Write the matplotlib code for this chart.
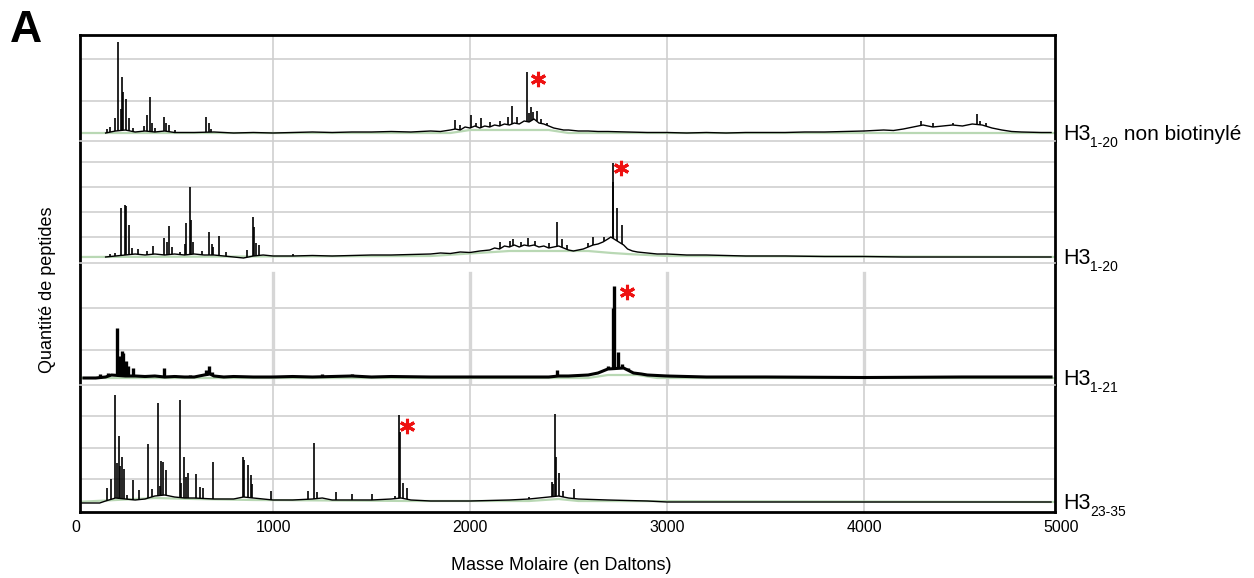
import matplotlib

matplotlib.use("Agg")

import matplotlib.pyplot as plt
import numpy as np
from matplotlib import transforms

plt.rcParams["font.family"] = ["Liberation Sans", "DejaVu Sans"]

# ---- data (mass in Da, intensity in arbitrary units) ----
labels_main = ["H3", "H3", "H3", "H3"]
labels_sub = ["1-20", "1-20", "1-21", "23-35"]
labels_tail = [" non biotinylé", "", "", ""]

tick_values = [0, 1000, 2000, 3000, 4000, 5000]

# panel 1 : H3 1-20 non biotinylé
p1_base_mz = [150, 200, 250, 300, 350, 400, 450, 500, 600, 700, 800, 900, 1000, 1100, 1200, 1300,
              1400, 1500, 1600, 1700, 1750, 1800, 1850, 1900, 1925, 1950, 1975, 2000, 2025, 2050,
              2075, 2100, 2125, 2150, 2175, 2200, 2225, 2250, 2275, 2300, 2325, 2350, 2375, 2400,
              2425, 2450, 2475, 2500, 2550, 2600, 2650, 2700, 2800, 2900, 3000, 3100, 3200, 3300,
              3400, 3500, 3600, 3700, 3800, 3900, 4000, 4050, 4100, 4150, 4200, 4250, 4300, 4350,
              4400, 4450, 4500, 4550, 4600, 4650, 4700, 4750, 4800, 4900, 4950]
p1_base_h = [0, 2, 3, 1, 2, 1, 2, 0.5, 0.5, 1, 0, 0.5, 0, 0.5, 1, 0.5, 1, 1, 1.5, 1, 1.5, 2, 1.5,
             3, 4, 3, 6, 5, 7, 5, 7, 6, 8, 7, 9, 8, 10, 9, 12, 11, 14, 10, 9, 7, 5, 4, 3, 3, 2, 2,
             1.5, 1.5, 1, 0.5, 0.5, 0, 0.5, 0, 0.5, 0.5, 0.5, 1, 1, 1.5, 2, 2.5, 3, 2.5, 4, 6, 8,
             6, 7, 8, 7, 9, 8, 5, 3, 1.5, 1, 0.5, 0.5]
p1_peak_mz = [159, 174, 196, 215, 230, 235, 240, 255, 270, 290, 347, 362, 377, 386, 400, 448, 457,
              471, 500, 661, 677, 687, 1926, 1949, 2003, 2030, 2056, 2100, 2150, 2191, 2212, 2240,
              2289, 2300, 2310, 2320, 2340, 2360, 2390, 4288, 4350, 4450, 4572, 4589, 4620]
p1_peak_h = [4, 6, 15, 91, 24, 56, 41, 34, 15, 5, 7, 18, 36, 10, 5, 16, 10, 8, 3, 16, 10, 4, 13, 8,
             18, 10, 15, 11, 12, 16, 27, 16, 61, 20, 26, 21, 22, 14, 10, 12, 10, 10, 19, 12, 10]
p1_green_mz = [0, 1900, 2000, 2400, 2500, 5000]
p1_green_h = [0, 0, 3, 3, 0, 0]
p1_star = (2345, 54)

# panel 2 : H3 1-20
p2_base_mz = [150, 200, 250, 300, 350, 400, 450, 500, 550, 600, 650, 700, 750, 800, 850, 900, 950,
              1000, 1100, 1200, 1300, 1400, 1500, 1600, 1700, 1800, 1850, 1900, 1950, 2000, 2050,
              2100, 2125, 2150, 2175, 2200, 2225, 2250, 2275, 2300, 2325, 2350, 2375, 2400, 2425,
              2450, 2475, 2500, 2525, 2550, 2575, 2600, 2625, 2650, 2675, 2700, 2715, 2780, 2800,
              2825, 2850, 2900, 2950, 3000, 3100, 3200, 3300, 3400, 3500, 3600, 3800, 4000, 4200,
              4500, 4700, 4950]
p2_base_h = [0, 1, 2, 3, 2, 3, 2, 3, 2, 3, 2, 2, 1, 0, -1, 1, 2, 1, 1, 1.5, 1, 1.5, 2, 2, 2.5, 3,
             4, 3.5, 5, 4.5, 6, 7, 9, 8, 11, 10, 12, 10, 12, 11, 12, 10, 11, 9, 10, 11, 9, 7, 6, 7,
             8, 10, 12, 13, 15, 18, 20, 12, 8, 6, 5, 4, 3, 3, 2, 2, 1.5, 1, 1, 1, 0.5, 0.5, 0, 0,
             0, 0]
p2_peak_mz = [172, 200, 228, 250, 255, 269, 283, 313, 360, 389, 447, 460, 472, 486, 530, 553, 557,
              579, 582, 596, 640, 673, 688, 697, 724, 760, 870, 897, 902, 914, 929, 1100, 2150, 2203,
              2220, 2260, 2296, 2330, 2400, 2440, 2465, 2490, 2600, 2626, 2680, 2724, 2727, 2748, 2770]
p2_peak_h = [3, 4, 49, 52, 51, 32, 9, 8, 6, 11, 19, 15, 31, 10, 5, 13, 34, 70, 37, 15, 6, 25, 13, 10,
             21, 5, 7, 40, 30, 14, 12, 3, 15, 16, 18, 15, 19, 16, 14, 35, 18, 12, 14, 20, 20, 94, 75,
             49, 32]
p2_green_mz = [0, 1800, 2200, 2600, 2720, 2800, 3000, 5000]
p2_green_h = [0, 1, 6, 6, 4, 3, 1, 0]
p2_star = (2766, 89)

# panel 3 : H3 1-21
p3_base_mz = [40, 100, 150, 180, 250, 300, 350, 400, 450, 500, 550, 600, 650, 680, 700, 750, 800,
              900, 1000, 1100, 1200, 1300, 1400, 1500, 1600, 1800, 2000, 2200, 2400, 2450, 2500,
              2550, 2600, 2650, 2700, 2780, 2800, 2830, 2870, 2900, 3000, 3100, 3200, 3500, 4000,
              4500, 4950]
p3_base_h = [0, 0, 1, 3, 2, 2, 1.5, 2, 1, 1.5, 1, 1, 3, 4, 2, 1, 1.5, 1, 1, 1.5, 1, 1.5, 2, 1, 1.5,
             1, 1, 1, 1, 2, 2, 2.5, 3, 5, 9, 10, 8, 5, 4, 3, 2, 1.5, 1, 1, 0.5, 1, 1]
p3_peak_mz = [120, 160, 206, 215, 225, 235, 240, 255, 265, 290, 350, 448, 500, 580, 660, 677, 690,
              1250, 1400, 2440, 2700, 2724, 2733, 2753, 2770, 2800]
p3_peak_h = [4, 5, 50, 16, 22, 27, 25, 17, 12, 10, 3, 10, 3, 3, 8, 12, 6, 4, 4, 8, 12, 70, 92, 26,
             14, 10]
p3_green_mz = [0, 2600, 2700, 2850, 2950, 5000]
p3_green_h = [0, 0, 3, 3, 0, 0]
p3_star = (2795, 86)

# panel 4 : H3 23-35
p4_base_mz = [20, 120, 150, 200, 250, 300, 350, 400, 450, 500, 550, 600, 700, 800, 850, 900, 1000,
              1100, 1200, 1250, 1300, 1500, 1600, 1650, 1700, 1800, 2000, 2200, 2300, 2400, 2450,
              2500, 2550, 2700, 2900, 3000, 3500, 4000, 4950]
p4_base_h = [-1, -1, 1, 4, 3, 2, 3, 6, 7, 5, 4, 4, 3, 3, 5, 4, 2, 2, 3, 4, 2, 2, 3, 4, 2, 1, 1, 2, 3,
             5, 6, 4, 3, 2, 1, 0, 0, 0, 0]
p4_peak_mz = [156, 176, 198, 210, 217, 225, 235, 244, 257, 288, 320, 365, 386, 416, 426, 433, 442,
              457, 528, 535, 548, 558, 567, 608, 629, 646, 697, 846, 854, 872, 887, 895, 990, 1176,
              1210, 1222, 1320, 1400, 1501, 1619, 1640, 1643, 1661, 1679, 2301, 2415, 2423, 2431,
              2435, 2452, 2471, 2530]
p4_peak_h = [14, 23, 107, 39, 66, 36, 45, 33, 7, 22, 12, 58, 13, 99, 16, 41, 40, 32, 102, 19, 45, 25,
             29, 28, 15, 14, 40, 45, 42, 37, 27, 18, 11, 11, 59, 10, 10, 8, 8, 6, 87, 70, 19, 14, 5,
             20, 18, 88, 45, 29, 11, 13]
p4_green_mz = [0, 200, 400, 600, 900, 1700, 2300, 2450, 2550, 5000]
p4_green_h = [0, 2, 4, 3, 2, 1, 1, 3, 1, 0]
p4_star = (1679, 76)

# ---- layout (pixels of the 1254x578 reference) ----
W, H = 1254, 578
X_LEFT, X_RIGHT = 80, 1055
XLIM = (20, 4970)
panel_top = [35, 141, 263, 385]
panel_bottom = [141, 263, 385, 512]
panel_base = [133, 257, 378, 502]
panel_grid = [[32, 74], [20, 45, 70, 95], [28, 70], [23, 54, 86]]
GRID = "#cfcfcf"
GREEN = "#b9d8b4"

panels = [
    (p1_base_mz, p1_base_h, p1_peak_mz, p1_peak_h, p1_green_mz, p1_green_h, p1_star),
    (p2_base_mz, p2_base_h, p2_peak_mz, p2_peak_h, p2_green_mz, p2_green_h, p2_star),
    (p3_base_mz, p3_base_h, p3_peak_mz, p3_peak_h, p3_green_mz, p3_green_h, p3_star),
    (p4_base_mz, p4_base_h, p4_peak_mz, p4_peak_h, p4_green_mz, p4_green_h, p4_star),
]

fig = plt.figure(figsize=(W / 100, H / 100), dpi=100, facecolor="white")
axes = []
for i, (bx, bh, px, ph, gx, gh, star) in enumerate(panels):
    top, bottom, base = panel_top[i], panel_bottom[i], panel_base[i]
    ax = fig.add_axes([X_LEFT / W, 1 - bottom / H, (X_RIGHT - X_LEFT) / W, (bottom - top) / H])
    ax.set_xlim(*XLIM)
    ax.set_ylim(-(bottom - base), base - top)
    ax.set_facecolor("white")
    ax.set_xticks([])
    ax.set_yticks([])

    thick = 2.2 if i == 2 else 1.0
    for g in panel_grid[i]:
        ax.axhline(g, color=GRID, lw=1.2, zorder=0)
    for v in tick_values[1:-1]:
        if i == 2:
            ax.axvline(v, ymax=0.918, color="#d6d6d6", lw=2.4, zorder=0)
        else:
            ax.axvline(v, color=GRID, lw=1.2, zorder=0)

    ax.plot(gx, gh, color=GREEN, lw=1.6, zorder=1)
    # spikes start on the spectrum envelope, not on zero
    foot = np.interp(px, bx, bh)
    ax.vlines(px, foot, ph, color="black", lw=thick + 0.2, zorder=2)
    ax.plot(bx, bh, color="black", lw=thick, zorder=3)
    ax.plot([star[0]], [star[1]], marker=(6, 2, 0), ms=11, mew=2.2, color="#ee1111",
            zorder=4, clip_on=False)

    for side in ("left", "right"):
        ax.spines[side].set_linewidth(2)
        ax.spines[side].set_color("black")
    ax.spines["top"].set_linewidth(2 if i == 0 else 1.2)
    ax.spines["top"].set_color("black" if i == 0 else GRID)
    ax.spines["bottom"].set_linewidth(2 if i == 3 else 0)
    ax.spines["bottom"].set_color("black")
    axes.append(ax)

# x tick labels under the bottom panel
ax4 = axes[-1]
trans = transforms.blended_transform_factory(ax4.transData, fig.transFigure)
for v in tick_values:
    ax4.text(v, 1 - 527 / H, str(v), transform=trans, ha="center", va="center",
             fontsize=11.5, clip_on=False)

fig.text(X_LEFT / W + (X_RIGHT - X_LEFT) / W / 2 - 0.005, 1 - 565 / H, "Masse Molaire (en Daltons)",
         ha="center", va="center", fontsize=13)
fig.text(48 / W, 1 - 290 / H, "Quantité de peptides", rotation=90, ha="center", va="center",
         fontsize=13)
fig.text(10 / W, 1 - 30 / H, "A", ha="left", va="center", fontsize=32, fontweight="bold")

# right-hand labels with subscripts
renderer = fig.canvas.get_renderer()
for i in range(4):
    y = 1 - (panel_base[i] + 7) / H
    t = fig.text(1063 / W, y, labels_main[i], fontsize=15.5, va="baseline")
    x1 = t.get_window_extent(renderer).x1 / fig.bbox.width
    s = fig.text(x1, y - 7 / H, labels_sub[i], fontsize=10, va="baseline")
    if labels_tail[i]:
        x2 = s.get_window_extent(renderer).x1 / fig.bbox.width
        fig.text(x2, y, labels_tail[i], fontsize=15, va="baseline")

fig.savefig("out.png", dpi=100, facecolor="white")
plt.close(fig)
